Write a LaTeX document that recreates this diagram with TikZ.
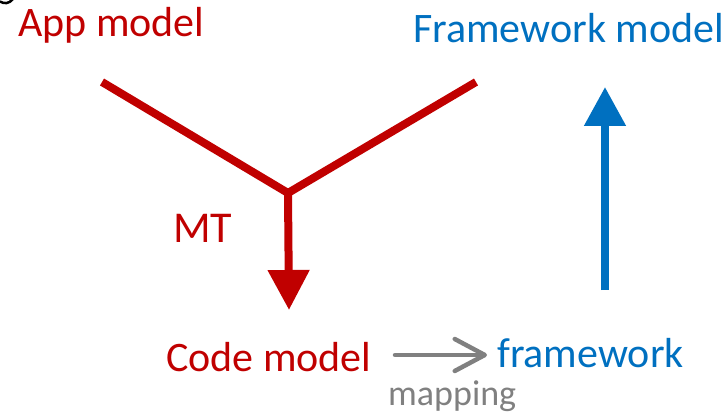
\documentclass[tikz,border=0pt]{standalone}
\usepackage{fontspec}
\setmainfont{Carlito}
\usetikzlibrary{arrows.meta}
\definecolor{mtred}{HTML}{C00000}
\definecolor{fwblue}{HTML}{0070C0}
\definecolor{mapgray}{HTML}{808080}
\tikzset{
  lbl/.style={anchor=base west, inner sep=0pt, font=\fontsize{42}{48}\selectfont},
  redlbl/.style={lbl, text=mtred},
  bluelbl/.style={lbl, text=fwblue},
  redline/.style={draw=mtred, line width=8pt, line join=miter},
}
\begin{document}
\begin{tikzpicture}[x=1pt, y=-1pt]
  \useasboundingbox (0,0) rectangle (728,414);
  \clip (0,0) rectangle (728,414);

  % tail of a glyph cut off at the top left edge
  \draw[line width=2.5pt] (0,1.5) .. controls (4,4) and (9,4) .. (13,-1);

  % labels
  \node[redlbl]  (app)  at (18,37)  {App model};
  \node[bluelbl] (fwm)  at (413,43) {Framework model};
  \node[redlbl, font=\fontsize{44}{50}\selectfont] (mt) at (173,243) {MT};
  \node[redlbl]  (code) at (166,371) {Code model};
  \node[bluelbl] (fw)   at (497,367) {framework};
  \node[lbl, text=mapgray, font=\fontsize{36}{42}\selectfont] (map) at (388,405) {mapping};

  % model transformation: two inputs merging into one output
  \coordinate (inL) at (102,82);
  \coordinate (inR) at (476,82);
  \coordinate (join) at (288,193);
  \coordinate (out) at (289,310);
  \draw[redline] (inL) -- (join) -- (inR);
  \draw[redline, -{Triangle[length=40pt, width=40pt]}] (join) -- (out);

  % framework abstraction
  \coordinate (fwbot) at (605,290);
  \coordinate (fwtop) at (605,87);
  \draw[fwblue, line width=8pt, -{Triangle[length=39pt, width=40pt]}] (fwbot) -- (fwtop);

  % mapping from code model to framework
  \coordinate (mapS) at (395,355);
  \coordinate (mapE) at (487,355);
  \draw[mapgray, line width=4.5pt, line cap=round,
        -{Straight Barb[length=30pt, width=32pt, round]}] (mapS) -- (mapE);
\end{tikzpicture}
\end{document}
